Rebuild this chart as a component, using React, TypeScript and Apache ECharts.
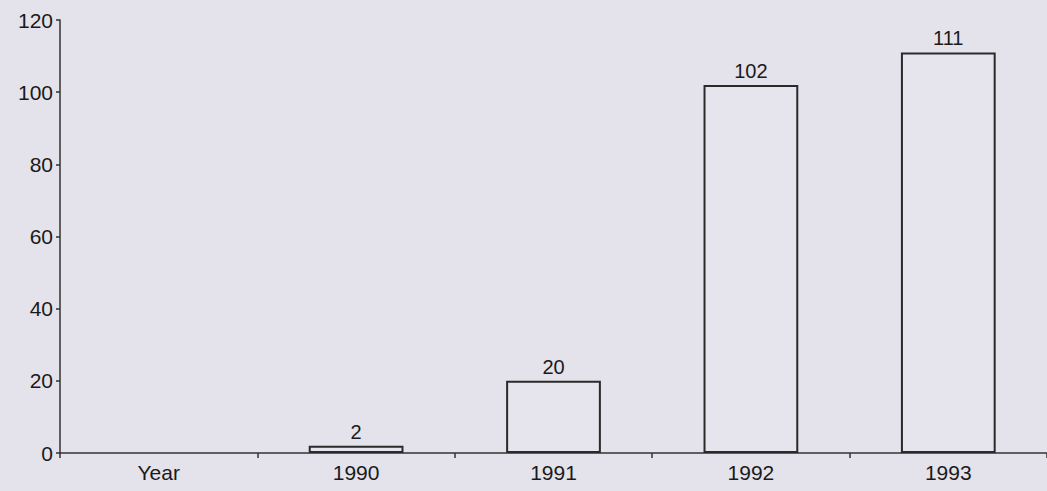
import React, { useEffect, useRef } from "react";
import * as echarts from "echarts";

const categories = ["Year", "1990", "1991", "1992", "1993"];
const values: (number | null)[] = [null, 2, 20, 102, 111];
const yTicks = { min: 0, max: 120, interval: 20 };

export default function App() {
  const ref = useRef<HTMLDivElement>(null);
  useEffect(() => {
    document.body.style.margin = "0";
    document.body.style.background = "#e4e2ea";
    const chart = echarts.init(ref.current!, null, { renderer: "svg" });
    const textColor = "#1a1a1a";
    const font = "'Liberation Sans', Arial, sans-serif";
    chart.setOption({
      animation: false,
      backgroundColor: "#e4e2ea",
      grid: { left: 60, right: 0, top: 20, bottom: 38, containLabel: false },
      xAxis: {
        type: "category",
        data: categories,
        axisLine: { show: true, lineStyle: { color: "#333", width: 1.5 } },
        axisTick: { show: true, length: 5, lineStyle: { color: "#333", width: 1.5 } },
        axisLabel: { color: textColor, fontSize: 21, fontFamily: font, margin: 9 },
      },
      yAxis: {
        type: "value",
        min: yTicks.min,
        max: yTicks.max,
        interval: yTicks.interval,
        splitLine: { show: false },
        axisLine: { show: true, lineStyle: { color: "#333", width: 1.5 } },
        axisTick: { show: true, length: 4, lineStyle: { color: "#333", width: 1.5 } },
        axisLabel: { color: textColor, fontSize: 21, fontFamily: font, margin: 7 },
      },
      series: [
        {
          type: "bar",
          data: values,
          barWidth: "48%",
          itemStyle: { color: "#e6e4ec", borderColor: "#2a2a2a", borderWidth: 2 },
          label: {
            show: true,
            position: "top",
            distance: 4,
            color: textColor,
            fontSize: 20,
            fontFamily: font,
          },
        },
      ],
    });
    return () => chart.dispose();
  }, []);
  return <div ref={ref} style={{ width: 1047, height: 491 }} />;
}
